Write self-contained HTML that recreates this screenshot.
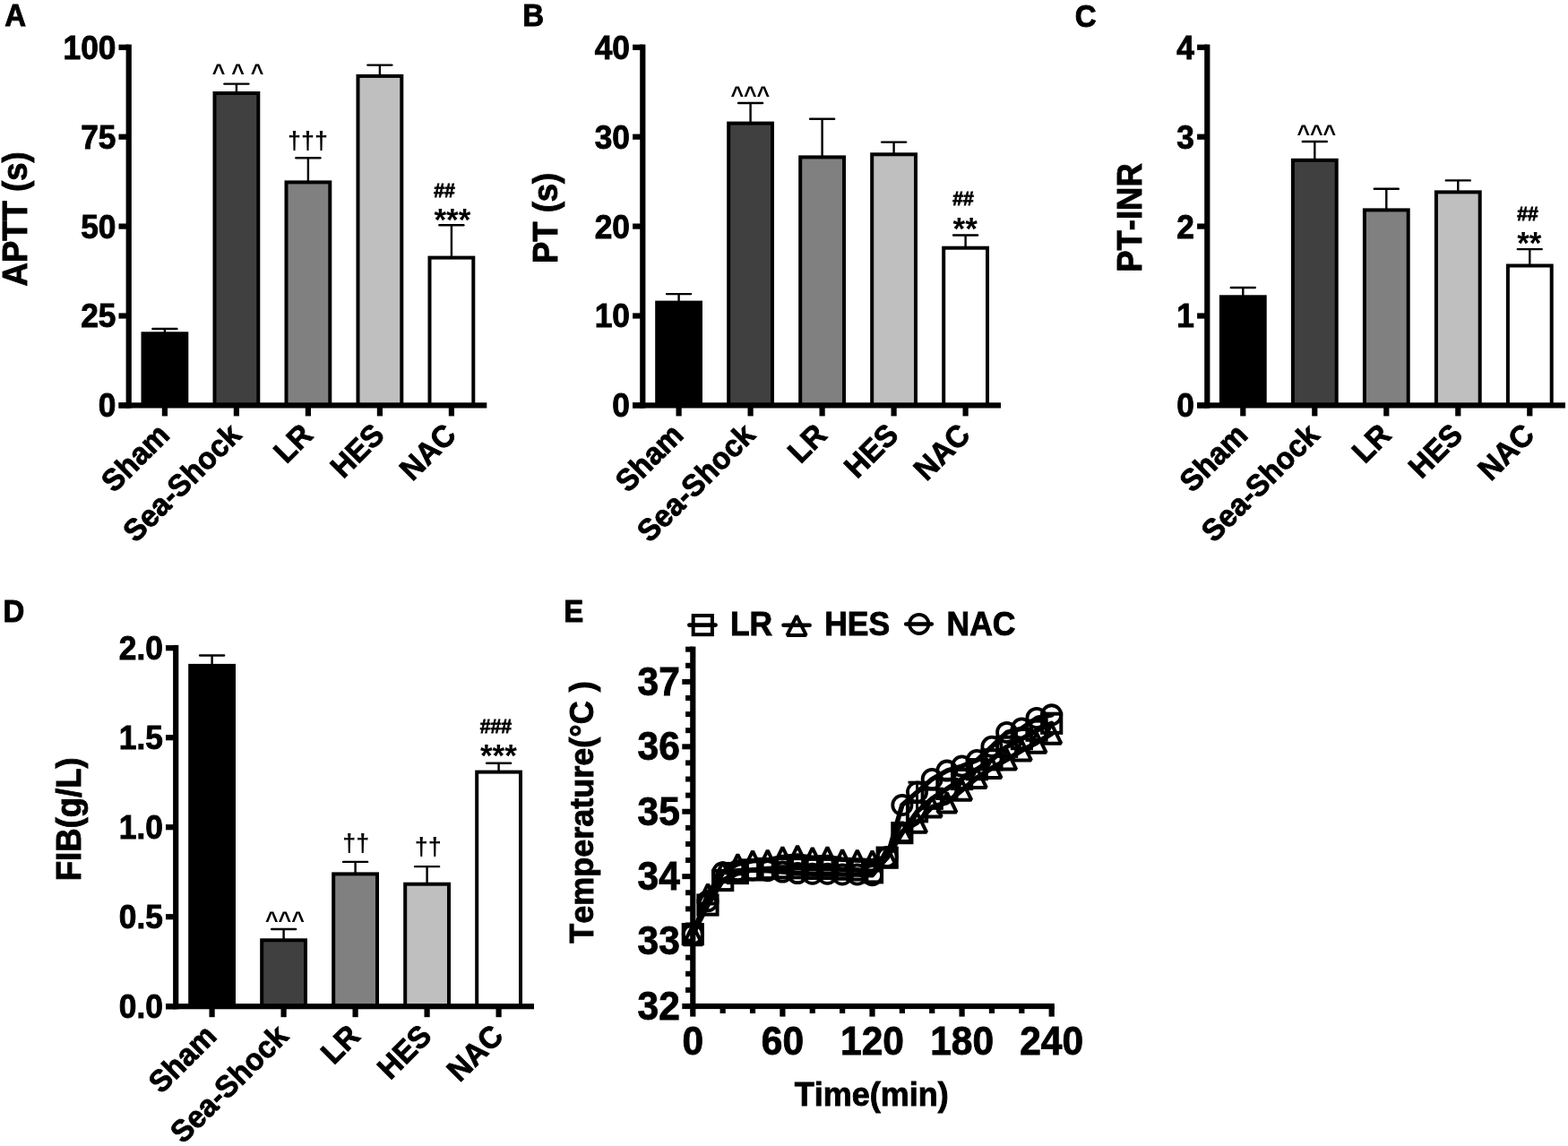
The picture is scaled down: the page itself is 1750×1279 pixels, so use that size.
<!DOCTYPE html>
<html lang="en"><head><meta charset="utf-8"><title>Coagulation and temperature figure</title>
<style>
html,body{margin:0;padding:0;background:#fff;}
body{width:1750px;height:1279px;overflow:hidden;}
svg{display:block;}
text{font-family:'Liberation Sans', Arial, Helvetica, sans-serif;font-weight:bold;stroke:#000;stroke-width:0.9px;}
text.ns{stroke:none;}
text{font-kerning:none;}
text.hs{stroke-width:0.8px;}
</style></head><body>
<svg width="1750" height="1279" viewBox="0 0 1750 1279" font-family="'Liberation Sans', Arial, Helvetica, sans-serif" font-weight="bold" fill="#000">
<rect x="0" y="0" width="1750" height="1279" fill="#fff"/>
<line x1="183.90" y1="372.30" x2="183.90" y2="367.00" stroke="#000" stroke-width="2.4" stroke-linecap="butt"/>
<line x1="170.40" y1="367.00" x2="197.40" y2="367.00" stroke="#000" stroke-width="2.4" stroke-linecap="round"/>
<rect x="159.50" y="372.30" width="48.80" height="80.10" fill="#000000" stroke="#000" stroke-width="4.0"/>
<rect x="180.80" y="452.40" width="6.20" height="12.00" fill="#000"/>
<text x="190.90" y="487.40" font-size="34.33" text-anchor="end" transform="rotate(-45 190.90 487.40)" textLength="89.86" lengthAdjust="spacingAndGlyphs">Sham</text>
<line x1="263.90" y1="104.00" x2="263.90" y2="93.60" stroke="#000" stroke-width="2.4" stroke-linecap="butt"/>
<line x1="250.40" y1="93.60" x2="277.40" y2="93.60" stroke="#000" stroke-width="2.4" stroke-linecap="round"/>
<rect x="239.50" y="104.00" width="48.80" height="348.40" fill="#404040" stroke="#000" stroke-width="4.0"/>
<rect x="260.80" y="452.40" width="6.20" height="12.00" fill="#000"/>
<text x="270.90" y="487.40" font-size="34.33" text-anchor="end" transform="rotate(-45 270.90 487.40)" textLength="168.74" lengthAdjust="spacingAndGlyphs">Sea-Shock</text>
<line x1="343.90" y1="203.40" x2="343.90" y2="176.20" stroke="#000" stroke-width="2.4" stroke-linecap="butt"/>
<line x1="330.40" y1="176.20" x2="357.40" y2="176.20" stroke="#000" stroke-width="2.4" stroke-linecap="round"/>
<rect x="319.50" y="203.40" width="48.80" height="249.00" fill="#808080" stroke="#000" stroke-width="4.0"/>
<rect x="340.80" y="452.40" width="6.20" height="12.00" fill="#000"/>
<text x="350.90" y="487.40" font-size="34.33" text-anchor="end" transform="rotate(-45 350.90 487.40)" textLength="43.99" lengthAdjust="spacingAndGlyphs">LR</text>
<line x1="423.90" y1="84.90" x2="423.90" y2="72.60" stroke="#000" stroke-width="2.4" stroke-linecap="butt"/>
<line x1="410.40" y1="72.60" x2="437.40" y2="72.60" stroke="#000" stroke-width="2.4" stroke-linecap="round"/>
<rect x="399.50" y="84.90" width="48.80" height="367.50" fill="#bfbfbf" stroke="#000" stroke-width="4.0"/>
<rect x="420.80" y="452.40" width="6.20" height="12.00" fill="#000"/>
<text x="430.90" y="487.40" font-size="34.33" text-anchor="end" transform="rotate(-45 430.90 487.40)" textLength="67.85" lengthAdjust="spacingAndGlyphs">HES</text>
<line x1="503.90" y1="287.60" x2="503.90" y2="251.30" stroke="#000" stroke-width="2.4" stroke-linecap="butt"/>
<line x1="490.40" y1="251.30" x2="517.40" y2="251.30" stroke="#000" stroke-width="2.4" stroke-linecap="round"/>
<rect x="479.50" y="287.60" width="48.80" height="164.80" fill="#ffffff" stroke="#000" stroke-width="4.0"/>
<rect x="500.80" y="452.40" width="6.20" height="12.00" fill="#000"/>
<text x="510.90" y="487.40" font-size="34.33" text-anchor="end" transform="rotate(-45 510.90 487.40)" textLength="71.49" lengthAdjust="spacingAndGlyphs">NAC</text>
<rect x="140.60" y="49.60" width="6.20" height="405.90" fill="#000"/>
<rect x="132.50" y="449.30" width="410.80" height="6.20" fill="#000"/>
<rect x="132.50" y="449.30" width="11.20" height="6.20" fill="#000"/>
<text x="129.40" y="465.30" font-size="36.73" text-anchor="end" textLength="19.63" lengthAdjust="spacingAndGlyphs">0</text>
<rect x="132.50" y="349.40" width="11.20" height="6.20" fill="#000"/>
<text x="129.40" y="365.40" font-size="36.73" text-anchor="end" textLength="39.26" lengthAdjust="spacingAndGlyphs">25</text>
<rect x="132.50" y="249.50" width="11.20" height="6.20" fill="#000"/>
<text x="129.40" y="265.50" font-size="36.73" text-anchor="end" textLength="39.26" lengthAdjust="spacingAndGlyphs">50</text>
<rect x="132.50" y="149.60" width="11.20" height="6.20" fill="#000"/>
<text x="129.40" y="165.60" font-size="36.73" text-anchor="end" textLength="39.26" lengthAdjust="spacingAndGlyphs">75</text>
<rect x="132.50" y="49.70" width="11.20" height="6.20" fill="#000"/>
<text x="129.40" y="65.70" font-size="36.73" text-anchor="end" textLength="58.90" lengthAdjust="spacingAndGlyphs">100</text>
<text x="29.60" y="244.40" font-size="37.98" text-anchor="middle" transform="rotate(-90 29.60 244.40)" textLength="150.05" lengthAdjust="spacingAndGlyphs">APTT (s)</text>
<text x="5.25" y="29.45" font-size="34.33" text-anchor="start" textLength="23.83" lengthAdjust="spacingAndGlyphs">A</text>
<text x="265.60" y="89.50" font-size="25" text-anchor="middle" class="ns">^ ^ ^</text>
<text x="343.60" y="165.60" font-size="27" text-anchor="middle" class="ns">†††</text>
<text x="495.90" y="219.70" font-size="22.5" text-anchor="middle" class="hs" textLength="23.5" lengthAdjust="spacingAndGlyphs">##</text>
<text x="504.90" y="256.70" font-size="35" text-anchor="middle" class="ns">***</text>
<line x1="757.60" y1="337.60" x2="757.60" y2="328.10" stroke="#000" stroke-width="2.4" stroke-linecap="butt"/>
<line x1="744.10" y1="328.10" x2="771.10" y2="328.10" stroke="#000" stroke-width="2.4" stroke-linecap="round"/>
<rect x="733.20" y="337.60" width="48.80" height="114.80" fill="#000000" stroke="#000" stroke-width="4.0"/>
<rect x="754.50" y="452.40" width="6.20" height="12.00" fill="#000"/>
<text x="764.60" y="487.40" font-size="34.33" text-anchor="end" transform="rotate(-45 764.60 487.40)" textLength="89.86" lengthAdjust="spacingAndGlyphs">Sham</text>
<line x1="837.60" y1="137.60" x2="837.60" y2="115.00" stroke="#000" stroke-width="2.4" stroke-linecap="butt"/>
<line x1="824.10" y1="115.00" x2="851.10" y2="115.00" stroke="#000" stroke-width="2.4" stroke-linecap="round"/>
<rect x="813.20" y="137.60" width="48.80" height="314.80" fill="#404040" stroke="#000" stroke-width="4.0"/>
<rect x="834.50" y="452.40" width="6.20" height="12.00" fill="#000"/>
<text x="844.60" y="487.40" font-size="34.33" text-anchor="end" transform="rotate(-45 844.60 487.40)" textLength="168.74" lengthAdjust="spacingAndGlyphs">Sea-Shock</text>
<line x1="917.60" y1="175.40" x2="917.60" y2="132.80" stroke="#000" stroke-width="2.4" stroke-linecap="butt"/>
<line x1="904.10" y1="132.80" x2="931.10" y2="132.80" stroke="#000" stroke-width="2.4" stroke-linecap="round"/>
<rect x="893.20" y="175.40" width="48.80" height="277.00" fill="#808080" stroke="#000" stroke-width="4.0"/>
<rect x="914.50" y="452.40" width="6.20" height="12.00" fill="#000"/>
<text x="924.60" y="487.40" font-size="34.33" text-anchor="end" transform="rotate(-45 924.60 487.40)" textLength="43.99" lengthAdjust="spacingAndGlyphs">LR</text>
<line x1="997.60" y1="172.30" x2="997.60" y2="158.60" stroke="#000" stroke-width="2.4" stroke-linecap="butt"/>
<line x1="984.10" y1="158.60" x2="1011.10" y2="158.60" stroke="#000" stroke-width="2.4" stroke-linecap="round"/>
<rect x="973.20" y="172.30" width="48.80" height="280.10" fill="#bfbfbf" stroke="#000" stroke-width="4.0"/>
<rect x="994.50" y="452.40" width="6.20" height="12.00" fill="#000"/>
<text x="1004.60" y="487.40" font-size="34.33" text-anchor="end" transform="rotate(-45 1004.60 487.40)" textLength="67.85" lengthAdjust="spacingAndGlyphs">HES</text>
<line x1="1077.60" y1="276.70" x2="1077.60" y2="262.50" stroke="#000" stroke-width="2.4" stroke-linecap="butt"/>
<line x1="1064.10" y1="262.50" x2="1091.10" y2="262.50" stroke="#000" stroke-width="2.4" stroke-linecap="round"/>
<rect x="1053.20" y="276.70" width="48.80" height="175.70" fill="#ffffff" stroke="#000" stroke-width="4.0"/>
<rect x="1074.50" y="452.40" width="6.20" height="12.00" fill="#000"/>
<text x="1084.60" y="487.40" font-size="34.33" text-anchor="end" transform="rotate(-45 1084.60 487.40)" textLength="71.49" lengthAdjust="spacingAndGlyphs">NAC</text>
<rect x="714.20" y="49.60" width="6.20" height="405.90" fill="#000"/>
<rect x="706.10" y="449.30" width="410.90" height="6.20" fill="#000"/>
<rect x="706.10" y="449.30" width="11.20" height="6.20" fill="#000"/>
<text x="703.00" y="465.30" font-size="36.73" text-anchor="end" textLength="19.63" lengthAdjust="spacingAndGlyphs">0</text>
<rect x="706.10" y="349.40" width="11.20" height="6.20" fill="#000"/>
<text x="703.00" y="365.40" font-size="36.73" text-anchor="end" textLength="39.26" lengthAdjust="spacingAndGlyphs">10</text>
<rect x="706.10" y="249.50" width="11.20" height="6.20" fill="#000"/>
<text x="703.00" y="265.50" font-size="36.73" text-anchor="end" textLength="39.26" lengthAdjust="spacingAndGlyphs">20</text>
<rect x="706.10" y="149.60" width="11.20" height="6.20" fill="#000"/>
<text x="703.00" y="165.60" font-size="36.73" text-anchor="end" textLength="39.26" lengthAdjust="spacingAndGlyphs">30</text>
<rect x="706.10" y="49.70" width="11.20" height="6.20" fill="#000"/>
<text x="703.00" y="65.70" font-size="36.73" text-anchor="end" textLength="39.26" lengthAdjust="spacingAndGlyphs">40</text>
<text x="622.00" y="243.40" font-size="37.98" text-anchor="middle" transform="rotate(-90 622.00 243.40)" textLength="101.39" lengthAdjust="spacingAndGlyphs">PT (s)</text>
<text x="583.35" y="29.45" font-size="34.33" text-anchor="start" textLength="23.83" lengthAdjust="spacingAndGlyphs">B</text>
<text x="837.30" y="115.30" font-size="25" text-anchor="middle" class="ns">^^^</text>
<text x="1075.00" y="229.00" font-size="22.5" text-anchor="middle" class="hs" textLength="23.5" lengthAdjust="spacingAndGlyphs">##</text>
<text x="1077.20" y="267.40" font-size="35" text-anchor="middle" class="ns">**</text>
<line x1="1387.30" y1="331.30" x2="1387.30" y2="321.00" stroke="#000" stroke-width="2.4" stroke-linecap="butt"/>
<line x1="1373.80" y1="321.00" x2="1400.80" y2="321.00" stroke="#000" stroke-width="2.4" stroke-linecap="round"/>
<rect x="1362.90" y="331.30" width="48.80" height="121.10" fill="#000000" stroke="#000" stroke-width="4.0"/>
<rect x="1384.20" y="452.40" width="6.20" height="12.00" fill="#000"/>
<text x="1394.30" y="487.40" font-size="34.33" text-anchor="end" transform="rotate(-45 1394.30 487.40)" textLength="89.86" lengthAdjust="spacingAndGlyphs">Sham</text>
<line x1="1467.30" y1="178.80" x2="1467.30" y2="158.00" stroke="#000" stroke-width="2.4" stroke-linecap="butt"/>
<line x1="1453.80" y1="158.00" x2="1480.80" y2="158.00" stroke="#000" stroke-width="2.4" stroke-linecap="round"/>
<rect x="1442.90" y="178.80" width="48.80" height="273.60" fill="#404040" stroke="#000" stroke-width="4.0"/>
<rect x="1464.20" y="452.40" width="6.20" height="12.00" fill="#000"/>
<text x="1474.30" y="487.40" font-size="34.33" text-anchor="end" transform="rotate(-45 1474.30 487.40)" textLength="168.74" lengthAdjust="spacingAndGlyphs">Sea-Shock</text>
<line x1="1547.30" y1="234.40" x2="1547.30" y2="210.80" stroke="#000" stroke-width="2.4" stroke-linecap="butt"/>
<line x1="1533.80" y1="210.80" x2="1560.80" y2="210.80" stroke="#000" stroke-width="2.4" stroke-linecap="round"/>
<rect x="1522.90" y="234.40" width="48.80" height="218.00" fill="#808080" stroke="#000" stroke-width="4.0"/>
<rect x="1544.20" y="452.40" width="6.20" height="12.00" fill="#000"/>
<text x="1554.30" y="487.40" font-size="34.33" text-anchor="end" transform="rotate(-45 1554.30 487.40)" textLength="43.99" lengthAdjust="spacingAndGlyphs">LR</text>
<line x1="1627.30" y1="214.40" x2="1627.30" y2="201.40" stroke="#000" stroke-width="2.4" stroke-linecap="butt"/>
<line x1="1613.80" y1="201.40" x2="1640.80" y2="201.40" stroke="#000" stroke-width="2.4" stroke-linecap="round"/>
<rect x="1602.90" y="214.40" width="48.80" height="238.00" fill="#bfbfbf" stroke="#000" stroke-width="4.0"/>
<rect x="1624.20" y="452.40" width="6.20" height="12.00" fill="#000"/>
<text x="1634.30" y="487.40" font-size="34.33" text-anchor="end" transform="rotate(-45 1634.30 487.40)" textLength="67.85" lengthAdjust="spacingAndGlyphs">HES</text>
<line x1="1707.30" y1="296.50" x2="1707.30" y2="278.10" stroke="#000" stroke-width="2.4" stroke-linecap="butt"/>
<line x1="1693.80" y1="278.10" x2="1720.80" y2="278.10" stroke="#000" stroke-width="2.4" stroke-linecap="round"/>
<rect x="1682.90" y="296.50" width="48.80" height="155.90" fill="#ffffff" stroke="#000" stroke-width="4.0"/>
<rect x="1704.20" y="452.40" width="6.20" height="12.00" fill="#000"/>
<text x="1714.30" y="487.40" font-size="34.33" text-anchor="end" transform="rotate(-45 1714.30 487.40)" textLength="71.49" lengthAdjust="spacingAndGlyphs">NAC</text>
<rect x="1344.20" y="49.60" width="6.20" height="405.90" fill="#000"/>
<rect x="1336.10" y="449.30" width="410.90" height="6.20" fill="#000"/>
<rect x="1336.10" y="449.30" width="11.20" height="6.20" fill="#000"/>
<text x="1333.00" y="465.30" font-size="36.73" text-anchor="end" textLength="19.63" lengthAdjust="spacingAndGlyphs">0</text>
<rect x="1336.10" y="349.40" width="11.20" height="6.20" fill="#000"/>
<text x="1333.00" y="365.40" font-size="36.73" text-anchor="end" textLength="19.63" lengthAdjust="spacingAndGlyphs">1</text>
<rect x="1336.10" y="249.50" width="11.20" height="6.20" fill="#000"/>
<text x="1333.00" y="265.50" font-size="36.73" text-anchor="end" textLength="19.63" lengthAdjust="spacingAndGlyphs">2</text>
<rect x="1336.10" y="149.60" width="11.20" height="6.20" fill="#000"/>
<text x="1333.00" y="165.60" font-size="36.73" text-anchor="end" textLength="19.63" lengthAdjust="spacingAndGlyphs">3</text>
<rect x="1336.10" y="49.70" width="11.20" height="6.20" fill="#000"/>
<text x="1333.00" y="65.70" font-size="36.73" text-anchor="end" textLength="19.63" lengthAdjust="spacingAndGlyphs">4</text>
<text x="1274.20" y="243.00" font-size="37.98" text-anchor="middle" transform="rotate(-90 1274.20 243.00)" textLength="121.65" lengthAdjust="spacingAndGlyphs">PT-INR</text>
<text x="1199.85" y="30.20" font-size="34.33" text-anchor="start" textLength="23.83" lengthAdjust="spacingAndGlyphs">C</text>
<text x="1469.30" y="157.70" font-size="25" text-anchor="middle" class="ns">^^^</text>
<text x="1705.10" y="245.80" font-size="22.5" text-anchor="middle" class="hs" textLength="23.5" lengthAdjust="spacingAndGlyphs">##</text>
<text x="1706.80" y="282.50" font-size="35" text-anchor="middle" class="ns">**</text>
<line x1="236.60" y1="742.90" x2="236.60" y2="731.50" stroke="#000" stroke-width="2.4" stroke-linecap="butt"/>
<line x1="223.10" y1="731.50" x2="250.10" y2="731.50" stroke="#000" stroke-width="2.4" stroke-linecap="round"/>
<rect x="212.20" y="742.90" width="48.80" height="380.30" fill="#000000" stroke="#000" stroke-width="4.0"/>
<rect x="233.50" y="1123.20" width="6.20" height="12.00" fill="#000"/>
<text x="243.60" y="1158.20" font-size="34.33" text-anchor="end" transform="rotate(-45 243.60 1158.20)" textLength="89.86" lengthAdjust="spacingAndGlyphs">Sham</text>
<line x1="316.60" y1="1049.30" x2="316.60" y2="1037.00" stroke="#000" stroke-width="2.4" stroke-linecap="butt"/>
<line x1="303.10" y1="1037.00" x2="330.10" y2="1037.00" stroke="#000" stroke-width="2.4" stroke-linecap="round"/>
<rect x="292.20" y="1049.30" width="48.80" height="73.90" fill="#404040" stroke="#000" stroke-width="4.0"/>
<rect x="313.50" y="1123.20" width="6.20" height="12.00" fill="#000"/>
<text x="323.60" y="1158.20" font-size="34.33" text-anchor="end" transform="rotate(-45 323.60 1158.20)" textLength="168.74" lengthAdjust="spacingAndGlyphs">Sea-Shock</text>
<line x1="396.60" y1="975.40" x2="396.60" y2="961.90" stroke="#000" stroke-width="2.4" stroke-linecap="butt"/>
<line x1="383.10" y1="961.90" x2="410.10" y2="961.90" stroke="#000" stroke-width="2.4" stroke-linecap="round"/>
<rect x="372.20" y="975.40" width="48.80" height="147.80" fill="#808080" stroke="#000" stroke-width="4.0"/>
<rect x="393.50" y="1123.20" width="6.20" height="12.00" fill="#000"/>
<text x="403.60" y="1158.20" font-size="34.33" text-anchor="end" transform="rotate(-45 403.60 1158.20)" textLength="43.99" lengthAdjust="spacingAndGlyphs">LR</text>
<line x1="476.60" y1="986.70" x2="476.60" y2="967.10" stroke="#000" stroke-width="2.4" stroke-linecap="butt"/>
<line x1="463.10" y1="967.10" x2="490.10" y2="967.10" stroke="#000" stroke-width="2.4" stroke-linecap="round"/>
<rect x="452.20" y="986.70" width="48.80" height="136.50" fill="#bfbfbf" stroke="#000" stroke-width="4.0"/>
<rect x="473.50" y="1123.20" width="6.20" height="12.00" fill="#000"/>
<text x="483.60" y="1158.20" font-size="34.33" text-anchor="end" transform="rotate(-45 483.60 1158.20)" textLength="67.85" lengthAdjust="spacingAndGlyphs">HES</text>
<line x1="556.60" y1="861.60" x2="556.60" y2="851.80" stroke="#000" stroke-width="2.4" stroke-linecap="butt"/>
<line x1="543.10" y1="851.80" x2="570.10" y2="851.80" stroke="#000" stroke-width="2.4" stroke-linecap="round"/>
<rect x="532.20" y="861.60" width="48.80" height="261.60" fill="#ffffff" stroke="#000" stroke-width="4.0"/>
<rect x="553.50" y="1123.20" width="6.20" height="12.00" fill="#000"/>
<text x="563.60" y="1158.20" font-size="34.33" text-anchor="end" transform="rotate(-45 563.60 1158.20)" textLength="71.49" lengthAdjust="spacingAndGlyphs">NAC</text>
<rect x="193.10" y="719.90" width="6.20" height="406.40" fill="#000"/>
<rect x="185.00" y="1120.10" width="411.00" height="6.20" fill="#000"/>
<rect x="185.00" y="1120.10" width="11.20" height="6.20" fill="#000"/>
<text x="181.90" y="1136.10" font-size="36.73" text-anchor="end" textLength="49.07" lengthAdjust="spacingAndGlyphs">0.0</text>
<rect x="185.00" y="1020.10" width="11.20" height="6.20" fill="#000"/>
<text x="181.90" y="1036.10" font-size="36.73" text-anchor="end" textLength="49.07" lengthAdjust="spacingAndGlyphs">0.5</text>
<rect x="185.00" y="920.10" width="11.20" height="6.20" fill="#000"/>
<text x="181.90" y="936.10" font-size="36.73" text-anchor="end" textLength="49.07" lengthAdjust="spacingAndGlyphs">1.0</text>
<rect x="185.00" y="820.10" width="11.20" height="6.20" fill="#000"/>
<text x="181.90" y="836.10" font-size="36.73" text-anchor="end" textLength="49.07" lengthAdjust="spacingAndGlyphs">1.5</text>
<rect x="185.00" y="720.10" width="11.20" height="6.20" fill="#000"/>
<text x="181.90" y="736.10" font-size="36.73" text-anchor="end" textLength="49.07" lengthAdjust="spacingAndGlyphs">2.0</text>
<text x="90.00" y="914.30" font-size="37.98" text-anchor="middle" transform="rotate(-90 90.00 914.30)" textLength="137.84" lengthAdjust="spacingAndGlyphs">FIB(g/L)</text>
<text x="3.55" y="694.25" font-size="34.33" text-anchor="start" textLength="23.83" lengthAdjust="spacingAndGlyphs">D</text>
<text x="317.90" y="1035.70" font-size="25" text-anchor="middle" class="ns">^^^</text>
<text x="397.30" y="950.00" font-size="27" text-anchor="middle" class="ns">††</text>
<text x="477.70" y="953.90" font-size="27" text-anchor="middle" class="ns">††</text>
<text x="553.30" y="818.40" font-size="22.5" text-anchor="middle" class="hs" textLength="35.2" lengthAdjust="spacingAndGlyphs">###</text>
<text x="556.40" y="854.50" font-size="35" text-anchor="middle" class="ns">***</text>
<polyline points="773.30,1042.61 789.98,1010.02 806.67,982.51 823.35,974.54 840.03,970.92 856.71,969.47 873.40,968.75 890.08,968.75 906.76,969.47 923.45,969.47 940.13,970.19 956.81,970.92 973.50,973.81 990.18,957.16 1006.86,929.64 1023.54,905.74 1040.23,891.26 1056.91,880.39 1073.59,869.53 1090.28,858.67 1106.96,847.80 1123.64,833.32 1140.33,824.63 1157.01,815.21 1173.69,807.25" fill="none" stroke="#000" stroke-width="5.5" stroke-linejoin="round" stroke-linecap="round"/>
<rect x="762.70" y="1032.01" width="21.20" height="21.20" fill="none" stroke="#000" stroke-width="4.0"/>
<rect x="779.38" y="999.42" width="21.20" height="21.20" fill="none" stroke="#000" stroke-width="4.0"/>
<rect x="796.07" y="971.91" width="21.20" height="21.20" fill="none" stroke="#000" stroke-width="4.0"/>
<rect x="812.75" y="963.94" width="21.20" height="21.20" fill="none" stroke="#000" stroke-width="4.0"/>
<rect x="829.43" y="960.32" width="21.20" height="21.20" fill="none" stroke="#000" stroke-width="4.0"/>
<rect x="846.11" y="958.87" width="21.20" height="21.20" fill="none" stroke="#000" stroke-width="4.0"/>
<rect x="862.80" y="958.15" width="21.20" height="21.20" fill="none" stroke="#000" stroke-width="4.0"/>
<rect x="879.48" y="958.15" width="21.20" height="21.20" fill="none" stroke="#000" stroke-width="4.0"/>
<rect x="896.16" y="958.87" width="21.20" height="21.20" fill="none" stroke="#000" stroke-width="4.0"/>
<rect x="912.85" y="958.87" width="21.20" height="21.20" fill="none" stroke="#000" stroke-width="4.0"/>
<rect x="929.53" y="959.59" width="21.20" height="21.20" fill="none" stroke="#000" stroke-width="4.0"/>
<rect x="946.21" y="960.32" width="21.20" height="21.20" fill="none" stroke="#000" stroke-width="4.0"/>
<rect x="962.90" y="963.21" width="21.20" height="21.20" fill="none" stroke="#000" stroke-width="4.0"/>
<rect x="979.58" y="946.56" width="21.20" height="21.20" fill="none" stroke="#000" stroke-width="4.0"/>
<rect x="996.26" y="919.04" width="21.20" height="21.20" fill="none" stroke="#000" stroke-width="4.0"/>
<rect x="1012.94" y="895.14" width="21.20" height="21.20" fill="none" stroke="#000" stroke-width="4.0"/>
<rect x="1029.63" y="880.66" width="21.20" height="21.20" fill="none" stroke="#000" stroke-width="4.0"/>
<rect x="1046.31" y="869.79" width="21.20" height="21.20" fill="none" stroke="#000" stroke-width="4.0"/>
<rect x="1062.99" y="858.93" width="21.20" height="21.20" fill="none" stroke="#000" stroke-width="4.0"/>
<rect x="1079.68" y="848.07" width="21.20" height="21.20" fill="none" stroke="#000" stroke-width="4.0"/>
<rect x="1096.36" y="837.20" width="21.20" height="21.20" fill="none" stroke="#000" stroke-width="4.0"/>
<rect x="1113.04" y="822.72" width="21.20" height="21.20" fill="none" stroke="#000" stroke-width="4.0"/>
<rect x="1129.73" y="814.03" width="21.20" height="21.20" fill="none" stroke="#000" stroke-width="4.0"/>
<rect x="1146.41" y="804.61" width="21.20" height="21.20" fill="none" stroke="#000" stroke-width="4.0"/>
<rect x="1163.09" y="796.65" width="21.20" height="21.20" fill="none" stroke="#000" stroke-width="4.0"/>
<polyline points="773.30,1043.34 789.98,997.71 806.67,973.09 823.35,964.40 840.03,960.78 856.71,960.06 873.40,956.43 890.08,954.99 906.76,957.16 923.45,956.43 940.13,959.33 956.81,960.06 973.50,960.78 990.18,956.43 1006.86,928.19 1023.54,918.05 1040.23,900.67 1056.91,895.60 1073.59,881.84 1090.28,868.08 1106.96,857.22 1123.64,847.80 1140.33,837.67 1157.01,828.97 1173.69,818.84" fill="none" stroke="#000" stroke-width="5.5" stroke-linejoin="round" stroke-linecap="round"/>
<polygon points="773.30,1032.53 783.90,1054.15 762.70,1054.15" fill="none" stroke="#000" stroke-width="4.0" stroke-linejoin="bevel"/>
<polygon points="789.98,986.90 800.58,1008.53 779.38,1008.53" fill="none" stroke="#000" stroke-width="4.0" stroke-linejoin="bevel"/>
<polygon points="806.67,962.28 817.27,983.90 796.07,983.90" fill="none" stroke="#000" stroke-width="4.0" stroke-linejoin="bevel"/>
<polygon points="823.35,953.59 833.95,975.21 812.75,975.21" fill="none" stroke="#000" stroke-width="4.0" stroke-linejoin="bevel"/>
<polygon points="840.03,949.97 850.63,971.59 829.43,971.59" fill="none" stroke="#000" stroke-width="4.0" stroke-linejoin="bevel"/>
<polygon points="856.71,949.24 867.31,970.87 846.11,970.87" fill="none" stroke="#000" stroke-width="4.0" stroke-linejoin="bevel"/>
<polygon points="873.40,945.62 884.00,967.25 862.80,967.25" fill="none" stroke="#000" stroke-width="4.0" stroke-linejoin="bevel"/>
<polygon points="890.08,944.17 900.68,965.80 879.48,965.80" fill="none" stroke="#000" stroke-width="4.0" stroke-linejoin="bevel"/>
<polygon points="906.76,946.35 917.36,967.97 896.16,967.97" fill="none" stroke="#000" stroke-width="4.0" stroke-linejoin="bevel"/>
<polygon points="923.45,945.62 934.05,967.25 912.85,967.25" fill="none" stroke="#000" stroke-width="4.0" stroke-linejoin="bevel"/>
<polygon points="940.13,948.52 950.73,970.14 929.53,970.14" fill="none" stroke="#000" stroke-width="4.0" stroke-linejoin="bevel"/>
<polygon points="956.81,949.24 967.41,970.87 946.21,970.87" fill="none" stroke="#000" stroke-width="4.0" stroke-linejoin="bevel"/>
<polygon points="973.50,949.97 984.10,971.59 962.90,971.59" fill="none" stroke="#000" stroke-width="4.0" stroke-linejoin="bevel"/>
<polygon points="990.18,945.62 1000.78,967.25 979.58,967.25" fill="none" stroke="#000" stroke-width="4.0" stroke-linejoin="bevel"/>
<polygon points="1006.86,917.38 1017.46,939.00 996.26,939.00" fill="none" stroke="#000" stroke-width="4.0" stroke-linejoin="bevel"/>
<polygon points="1023.54,907.24 1034.14,928.86 1012.94,928.86" fill="none" stroke="#000" stroke-width="4.0" stroke-linejoin="bevel"/>
<polygon points="1040.23,889.86 1050.83,911.48 1029.63,911.48" fill="none" stroke="#000" stroke-width="4.0" stroke-linejoin="bevel"/>
<polygon points="1056.91,884.79 1067.51,906.41 1046.31,906.41" fill="none" stroke="#000" stroke-width="4.0" stroke-linejoin="bevel"/>
<polygon points="1073.59,871.03 1084.19,892.65 1062.99,892.65" fill="none" stroke="#000" stroke-width="4.0" stroke-linejoin="bevel"/>
<polygon points="1090.28,857.27 1100.88,878.89 1079.68,878.89" fill="none" stroke="#000" stroke-width="4.0" stroke-linejoin="bevel"/>
<polygon points="1106.96,846.41 1117.56,868.03 1096.36,868.03" fill="none" stroke="#000" stroke-width="4.0" stroke-linejoin="bevel"/>
<polygon points="1123.64,836.99 1134.24,858.62 1113.04,858.62" fill="none" stroke="#000" stroke-width="4.0" stroke-linejoin="bevel"/>
<polygon points="1140.33,826.85 1150.93,848.48 1129.73,848.48" fill="none" stroke="#000" stroke-width="4.0" stroke-linejoin="bevel"/>
<polygon points="1157.01,818.16 1167.61,839.79 1146.41,839.79" fill="none" stroke="#000" stroke-width="4.0" stroke-linejoin="bevel"/>
<polygon points="1173.69,808.02 1184.29,829.65 1163.09,829.65" fill="none" stroke="#000" stroke-width="4.0" stroke-linejoin="bevel"/>
<polyline points="773.30,1042.61 789.98,1005.68 806.67,973.81 823.35,971.64 840.03,970.92 856.71,971.64 873.40,973.09 890.08,974.54 906.76,975.26 923.45,975.26 940.13,975.99 956.81,975.99 973.50,976.71 990.18,956.43 1006.86,898.50 1023.54,884.01 1040.23,869.53 1056.91,860.12 1073.59,855.05 1090.28,848.53 1106.96,833.32 1123.64,817.39 1140.33,813.04 1157.01,801.46 1173.69,797.83" fill="none" stroke="#000" stroke-width="5.5" stroke-linejoin="round" stroke-linecap="round"/>
<circle cx="773.30" cy="1042.61" r="10.60" fill="none" stroke="#000" stroke-width="3.80"/>
<circle cx="789.98" cy="1005.68" r="10.60" fill="none" stroke="#000" stroke-width="3.80"/>
<circle cx="806.67" cy="973.81" r="10.60" fill="none" stroke="#000" stroke-width="3.80"/>
<circle cx="823.35" cy="971.64" r="10.60" fill="none" stroke="#000" stroke-width="3.80"/>
<circle cx="840.03" cy="970.92" r="10.60" fill="none" stroke="#000" stroke-width="3.80"/>
<circle cx="856.71" cy="971.64" r="10.60" fill="none" stroke="#000" stroke-width="3.80"/>
<circle cx="873.40" cy="973.09" r="10.60" fill="none" stroke="#000" stroke-width="3.80"/>
<circle cx="890.08" cy="974.54" r="10.60" fill="none" stroke="#000" stroke-width="3.80"/>
<circle cx="906.76" cy="975.26" r="10.60" fill="none" stroke="#000" stroke-width="3.80"/>
<circle cx="923.45" cy="975.26" r="10.60" fill="none" stroke="#000" stroke-width="3.80"/>
<circle cx="940.13" cy="975.99" r="10.60" fill="none" stroke="#000" stroke-width="3.80"/>
<circle cx="956.81" cy="975.99" r="10.60" fill="none" stroke="#000" stroke-width="3.80"/>
<circle cx="973.50" cy="976.71" r="10.60" fill="none" stroke="#000" stroke-width="3.80"/>
<circle cx="990.18" cy="956.43" r="10.60" fill="none" stroke="#000" stroke-width="3.80"/>
<circle cx="1006.86" cy="898.50" r="10.60" fill="none" stroke="#000" stroke-width="3.80"/>
<circle cx="1023.54" cy="884.01" r="10.60" fill="none" stroke="#000" stroke-width="3.80"/>
<circle cx="1040.23" cy="869.53" r="10.60" fill="none" stroke="#000" stroke-width="3.80"/>
<circle cx="1056.91" cy="860.12" r="10.60" fill="none" stroke="#000" stroke-width="3.80"/>
<circle cx="1073.59" cy="855.05" r="10.60" fill="none" stroke="#000" stroke-width="3.80"/>
<circle cx="1090.28" cy="848.53" r="10.60" fill="none" stroke="#000" stroke-width="3.80"/>
<circle cx="1106.96" cy="833.32" r="10.60" fill="none" stroke="#000" stroke-width="3.80"/>
<circle cx="1123.64" cy="817.39" r="10.60" fill="none" stroke="#000" stroke-width="3.80"/>
<circle cx="1140.33" cy="813.04" r="10.60" fill="none" stroke="#000" stroke-width="3.80"/>
<circle cx="1157.01" cy="801.46" r="10.60" fill="none" stroke="#000" stroke-width="3.80"/>
<circle cx="1173.69" cy="797.83" r="10.60" fill="none" stroke="#000" stroke-width="3.80"/>
<line x1="1023.54" y1="905.74" x2="1023.54" y2="873.15" stroke="#000" stroke-width="3" stroke-linecap="butt"/>
<line x1="1013.54" y1="873.15" x2="1033.55" y2="873.15" stroke="#000" stroke-width="3" stroke-linecap="butt"/>
<rect x="770.20" y="721.59" width="6.20" height="404.51" fill="#000"/>
<rect x="761.30" y="1119.90" width="415.49" height="6.20" fill="#000"/>
<rect x="765.10" y="1101.89" width="8.20" height="6.00" fill="#000"/>
<rect x="765.10" y="1083.79" width="8.20" height="6.00" fill="#000"/>
<rect x="765.10" y="1065.68" width="8.20" height="6.00" fill="#000"/>
<rect x="761.30" y="1047.58" width="12.00" height="6.00" fill="#000"/>
<text x="758.80" y="1065.43" font-size="43.5" text-anchor="end" textLength="47.26" lengthAdjust="spacingAndGlyphs">33</text>
<rect x="765.10" y="1029.47" width="8.20" height="6.00" fill="#000"/>
<rect x="765.10" y="1011.37" width="8.20" height="6.00" fill="#000"/>
<rect x="765.10" y="993.26" width="8.20" height="6.00" fill="#000"/>
<rect x="761.30" y="975.16" width="12.00" height="6.00" fill="#000"/>
<text x="758.80" y="993.01" font-size="43.5" text-anchor="end" textLength="47.26" lengthAdjust="spacingAndGlyphs">34</text>
<rect x="765.10" y="957.06" width="8.20" height="6.00" fill="#000"/>
<rect x="765.10" y="938.95" width="8.20" height="6.00" fill="#000"/>
<rect x="765.10" y="920.85" width="8.20" height="6.00" fill="#000"/>
<rect x="761.30" y="902.74" width="12.00" height="6.00" fill="#000"/>
<text x="758.80" y="920.59" font-size="43.5" text-anchor="end" textLength="47.26" lengthAdjust="spacingAndGlyphs">35</text>
<rect x="765.10" y="884.63" width="8.20" height="6.00" fill="#000"/>
<rect x="765.10" y="866.53" width="8.20" height="6.00" fill="#000"/>
<rect x="765.10" y="848.42" width="8.20" height="6.00" fill="#000"/>
<rect x="761.30" y="830.32" width="12.00" height="6.00" fill="#000"/>
<text x="758.80" y="848.17" font-size="43.5" text-anchor="end" textLength="47.26" lengthAdjust="spacingAndGlyphs">36</text>
<rect x="765.10" y="812.21" width="8.20" height="6.00" fill="#000"/>
<rect x="765.10" y="794.11" width="8.20" height="6.00" fill="#000"/>
<rect x="765.10" y="776.00" width="8.20" height="6.00" fill="#000"/>
<rect x="761.30" y="757.90" width="12.00" height="6.00" fill="#000"/>
<text x="758.80" y="775.75" font-size="43.5" text-anchor="end" textLength="47.26" lengthAdjust="spacingAndGlyphs">37</text>
<rect x="765.10" y="739.80" width="8.20" height="6.00" fill="#000"/>
<rect x="765.10" y="721.69" width="8.20" height="6.00" fill="#000"/>
<text x="758.80" y="1138.30" font-size="43.5" text-anchor="end" textLength="47.26" lengthAdjust="spacingAndGlyphs">32</text>
<rect x="770.20" y="1123.00" width="6.20" height="11.60" fill="#000"/>
<text x="773.30" y="1176.60" font-size="43.5" text-anchor="middle" textLength="23.63" lengthAdjust="spacingAndGlyphs">0</text>
<rect x="803.57" y="1123.00" width="6.20" height="8.00" fill="#000"/>
<rect x="836.93" y="1123.00" width="6.20" height="8.00" fill="#000"/>
<rect x="870.30" y="1123.00" width="6.20" height="11.60" fill="#000"/>
<text x="873.40" y="1176.60" font-size="43.5" text-anchor="middle" textLength="47.26" lengthAdjust="spacingAndGlyphs">60</text>
<rect x="903.66" y="1123.00" width="6.20" height="8.00" fill="#000"/>
<rect x="937.03" y="1123.00" width="6.20" height="8.00" fill="#000"/>
<rect x="970.40" y="1123.00" width="6.20" height="11.60" fill="#000"/>
<text x="973.50" y="1176.60" font-size="43.5" text-anchor="middle" textLength="70.89" lengthAdjust="spacingAndGlyphs">120</text>
<rect x="1003.76" y="1123.00" width="6.20" height="8.00" fill="#000"/>
<rect x="1037.13" y="1123.00" width="6.20" height="8.00" fill="#000"/>
<rect x="1070.49" y="1123.00" width="6.20" height="11.60" fill="#000"/>
<text x="1073.59" y="1176.60" font-size="43.5" text-anchor="middle" textLength="70.89" lengthAdjust="spacingAndGlyphs">180</text>
<rect x="1103.86" y="1123.00" width="6.20" height="8.00" fill="#000"/>
<rect x="1137.23" y="1123.00" width="6.20" height="8.00" fill="#000"/>
<rect x="1170.59" y="1123.00" width="6.20" height="11.60" fill="#000"/>
<text x="1173.69" y="1176.60" font-size="43.5" text-anchor="middle" textLength="70.89" lengthAdjust="spacingAndGlyphs">240</text>
<text x="972.80" y="1234.00" font-size="37.46" text-anchor="middle" textLength="172.00" lengthAdjust="spacingAndGlyphs">Time(min)</text>
<text x="662.00" y="906.50" font-size="37.46" text-anchor="middle" transform="rotate(-90 662.00 906.50)" textLength="292.45" lengthAdjust="spacingAndGlyphs">Temperature(°C )</text>
<text x="629.35" y="694.25" font-size="34.33" text-anchor="start" textLength="22.01" lengthAdjust="spacingAndGlyphs">E</text>
<line x1="769.30" y1="697.60" x2="798.60" y2="697.60" stroke="#000" stroke-width="4.6" stroke-linecap="round"/>
<rect x="773.70" y="687.00" width="21.20" height="21.20" fill="none" stroke="#000" stroke-width="4.0"/>
<text x="814.90" y="709.30" font-size="36.94" text-anchor="start" textLength="47.32" lengthAdjust="spacingAndGlyphs">LR</text>
<line x1="874.50" y1="697.70" x2="903.60" y2="697.70" stroke="#000" stroke-width="4.6" stroke-linecap="round"/>
<polygon points="889.10,687.29 899.70,708.91 878.50,708.91" fill="none" stroke="#000" stroke-width="4.0" stroke-linejoin="bevel"/>
<text x="920.20" y="709.30" font-size="36.94" text-anchor="start" textLength="72.99" lengthAdjust="spacingAndGlyphs">HES</text>
<line x1="1011.20" y1="696.50" x2="1039.80" y2="696.50" stroke="#000" stroke-width="4.6" stroke-linecap="round"/>
<circle cx="1025.70" cy="696.40" r="10.60" fill="none" stroke="#000" stroke-width="3.80"/>
<text x="1056.60" y="709.30" font-size="36.94" text-anchor="start" textLength="76.91" lengthAdjust="spacingAndGlyphs">NAC</text>
</svg>
</body></html>
